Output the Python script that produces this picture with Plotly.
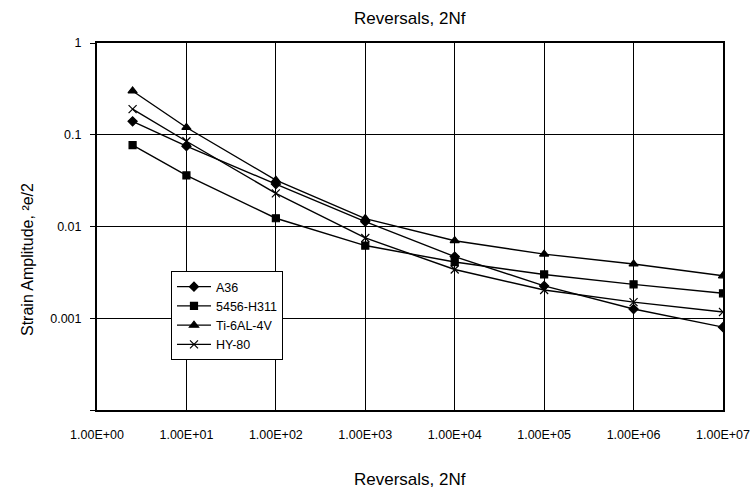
import plotly.graph_objects as go

reversals = [2.5, 10, 100, 1e3, 1e4, 1e5, 1e6, 1e7]
a36 = [0.14, 0.075, 0.029, 0.0113, 0.0047, 0.00225, 0.00126, 0.0008]
al5456 = [0.077, 0.036, 0.0123, 0.0062, 0.0041, 0.003, 0.00234, 0.00187]
ti64 = [0.30, 0.12, 0.032, 0.0122, 0.007, 0.005, 0.0039, 0.0029]
hy80 = [0.19, 0.085, 0.023, 0.0075, 0.0034, 0.00203, 0.0015, 0.00117]

series_names = ["A36", "5456-H311", "Ti-6AL-4V", "HY-80"]
series_vals = [a36, al5456, ti64, hy80]
symbols = ["diamond", "square", "triangle-up", "x-thin"]
sizes = [7, 7, 8, 8]

x_tickvals = [1, 10, 100, 1e3, 1e4, 1e5, 1e6, 1e7]
x_ticktext = ["1.00E+00", "1.00E+01", "1.00E+02", "1.00E+03", "1.00E+04",
              "1.00E+05", "1.00E+06", "1.00E+07"]
y_tickvals = [1e-4, 1e-3, 1e-2, 1e-1, 1]
y_ticktext = ["", "0.001", "0.01", "0.1", "1"]

FONT = "Liberation Sans, Arial, sans-serif"

fig = go.Figure()
for name, vals, sym, sz in zip(series_names, series_vals, symbols, sizes):
    fig.add_trace(go.Scatter(
        x=reversals, y=vals, name=name, mode="lines+markers",
        line=dict(color="black", width=1.4),
        marker=dict(symbol=sym, size=sz, color="black",
                    line=dict(width=1.2, color="black")),
    ))

fig.update_layout(
    template="none",
    width=751, height=489,
    margin=dict(l=97, r=28, t=43, b=79, autoexpand=False),
    paper_bgcolor="white", plot_bgcolor="white",
    font=dict(family=FONT, size=12, color="black"),
    showlegend=True,
    legend=dict(x=0.1182, y=0.3787, xanchor="left", yanchor="top",
                bgcolor="white", bordercolor="black", borderwidth=1,
                font=dict(family=FONT, size=12.5, color="black"),
                itemwidth=34, tracegroupgap=0),
    xaxis=dict(type="log", range=[0, 7], tickvals=x_tickvals, ticktext=x_ticktext,
               showgrid=True, gridcolor="black", gridwidth=1,
               showline=True, linecolor="black", linewidth=2, mirror=True,
               ticks="", ticklabelstandoff=12, zeroline=False, automargin=False,
               tickfont=dict(family=FONT, size=12.5, color="black")),
    yaxis=dict(type="log", range=[-4, 0], tickvals=y_tickvals, ticktext=y_ticktext,
               showgrid=True, gridcolor="black", gridwidth=1,
               showline=True, linecolor="black", linewidth=2, mirror=True,
               ticks="outside", ticklen=5, tickwidth=1, tickcolor="black",
               ticklabelstandoff=6, zeroline=False, automargin=False,
               tickfont=dict(family=FONT, size=12.5, color="black")),
    annotations=[
        dict(text="Reversals, 2Nf", xref="paper", yref="paper", x=0.5, y=1.068,
             xanchor="center", yanchor="middle", showarrow=False,
             font=dict(family=FONT, size=17, color="black")),
        dict(text="Reversals, 2Nf", xref="paper", yref="paper", x=0.5, y=-0.1907,
             xanchor="center", yanchor="middle", showarrow=False,
             font=dict(family=FONT, size=17, color="black")),
        dict(text="Strain Amplitude, ²e/2", xref="paper", yref="paper",
             x=-0.1118, y=0.4087, xanchor="center", yanchor="middle",
             textangle=-90, showarrow=False,
             font=dict(family=FONT, size=16, color="black")),
    ],
)

fig.write_html("out.html")
